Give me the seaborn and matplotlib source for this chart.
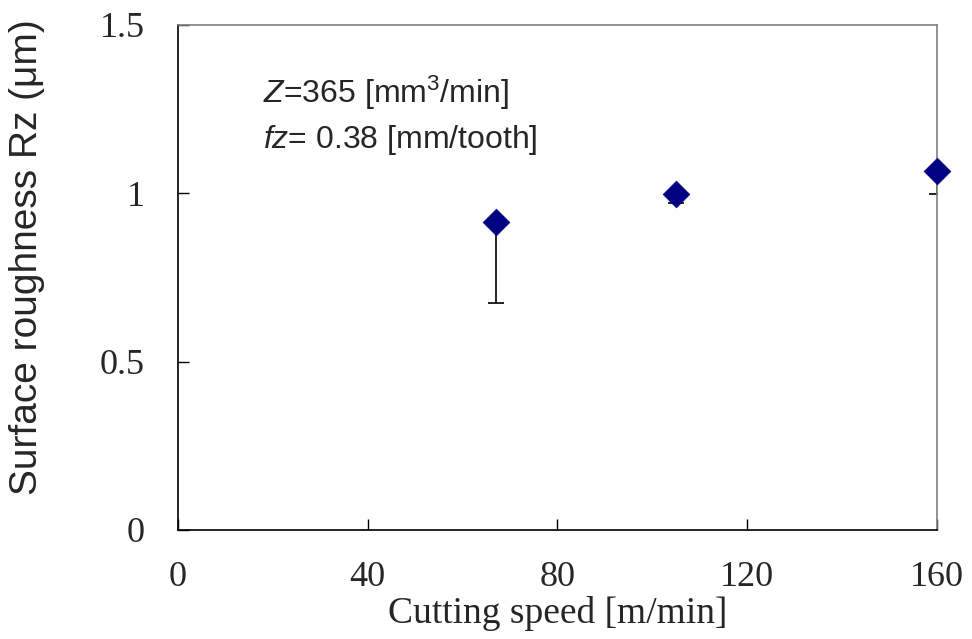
import matplotlib
matplotlib.use("Agg")
import matplotlib.pyplot as plt
import seaborn as sns
import pandas as pd

# data
cutting_speed = [67, 105, 160]
roughness = [0.915, 0.998, 1.066]
err_low = [0.241, 0.028, 0.068]
x_ticks = [0, 40, 80, 120, 160]
y_ticks = [0, 0.5, 1, 1.5]
y_tick_labels = ["0", "0.5", "1", "1.5"]

df = pd.DataFrame({"speed": cutting_speed, "rz": roughness})

sns.set_style("white")
plt.rcParams["font.family"] = ["Liberation Sans", "DejaVu Sans"]
plt.rcParams["mathtext.fontset"] = "custom"
plt.rcParams["mathtext.rm"] = "Liberation Sans"
plt.rcParams["mathtext.it"] = "Liberation Sans:italic"
plt.rcParams["xtick.bottom"] = True
plt.rcParams["ytick.left"] = True

fig = plt.figure(figsize=(9.72, 6.39), dpi=100)
ax = fig.add_axes([0.1831, 0.1706, 0.7809, 0.7903])

# lower-only error bars
ax.errorbar(df["speed"], df["rz"], yerr=[err_low, [0, 0, 0]], fmt="none",
            ecolor="black", elinewidth=1.2, capsize=6, capthick=1.2, zorder=2)
sns.scatterplot(data=df, x="speed", y="rz", marker="D", s=185, color="#000080",
                edgecolor="#000080", linewidth=0.5, ax=ax, zorder=3, legend=False,
                clip_on=False)

ax.set_xlim(0, 160)
ax.set_ylim(0, 1.5)
ax.set_xticks(x_ticks)
ax.set_yticks(y_ticks)
ax.set_yticklabels(y_tick_labels)
for lab in ax.get_xticklabels() + ax.get_yticklabels():
    lab.set_fontfamily("Liberation Serif")
    lab.set_fontsize(26)
ax.tick_params(direction="in", length=8, width=1, color="black",
               top=False, right=False)
ax.tick_params(axis="x", pad=22)
ax.tick_params(axis="y", pad=24)

for side in ["left", "bottom"]:
    ax.spines[side].set_color("black")
    ax.spines[side].set_linewidth(1.2)
for side in ["top", "right"]:
    ax.spines[side].set_color("#808080")
    ax.spines[side].set_linewidth(1.2)
    ax.spines[side].set_visible(True)

ax.set_xlabel("Cutting speed [m/min]", fontfamily="Liberation Serif", fontsize=27, labelpad=2)
ax.set_ylabel("Surface roughness Rz (\u03bcm)", fontsize=28)
ax.yaxis.set_label_coords(-0.175, 0.54)

ax.text(0.112, 0.846, r"$Z$=365 [mm$^3$/min]", transform=ax.transAxes, fontsize=23)
ax.text(0.112, 0.756, r"$fz$= 0.38 [mm/tooth]", transform=ax.transAxes, fontsize=23)

fig.savefig("out.png", dpi=100)
